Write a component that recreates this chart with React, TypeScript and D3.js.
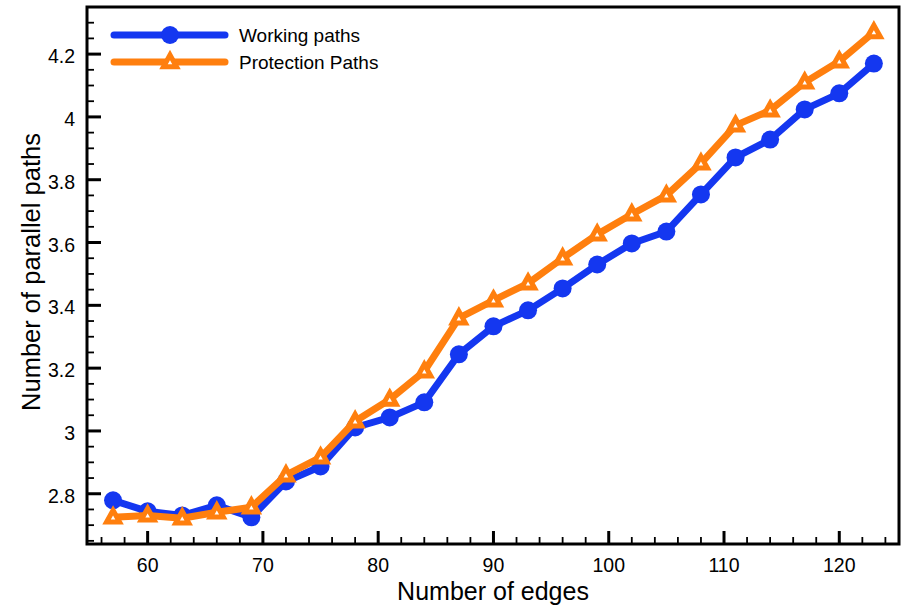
import { useEffect, useRef } from "react";
import * as d3 from "d3";

const edges = [57, 60, 63, 66, 69, 72, 75, 78, 81, 84, 87, 90, 93, 96, 99, 102, 105, 108, 111, 114, 117, 120, 123];
const workingPaths = [2.779, 2.744, 2.731, 2.763, 2.725, 2.839, 2.887, 3.011, 3.043, 3.091, 3.244, 3.333, 3.384, 3.454, 3.53, 3.597, 3.635, 3.753, 3.871, 3.928, 4.024, 4.075, 4.17];
const protectionPaths = [2.725, 2.731, 2.722, 2.741, 2.757, 2.859, 2.916, 3.031, 3.1, 3.19, 3.359, 3.416, 3.47, 3.55, 3.626, 3.69, 3.75, 3.852, 3.973, 4.021, 4.11, 4.177, 4.27];
const xTicks = [60, 70, 80, 90, 100, 110, 120];
const yTicks = [2.8, 3, 3.2, 3.4, 3.6, 3.8, 4, 4.2];
const seriesNames = ["Working paths", "Protection Paths"];

const W = 910, H = 608;
const left = 87, right = 899, top = 7, bottom = 544;
const blue = "#1437f0";
const orange = "#ff7f0e";
const font = "'Liberation Sans', Arial, Helvetica, sans-serif";

function triPath(cx: number, cy: number, s: number) {
    const h = s * 0.9;
    return `M${cx},${cy - h * 0.6}L${cx + s / 2},${cy + h * 0.4}L${cx - s / 2},${cy + h * 0.4}Z`;
}

export default function App() {
    const svgRef = useRef<SVGSVGElement>(null);

    useEffect(() => {
        const svg = d3.select(svgRef.current);
        svg.selectAll("*").remove();

        const x = d3.scaleLinear().domain([54.74, 125.18]).range([left, right]);
        const y = d3.scaleLinear().domain([2.64, 4.35]).range([bottom, top]);

        // minor + major ticks, inward
        const g = svg.append("g");
        d3.range(56, 125, 2).forEach(v => {
            const major = v % 10 === 0;
            g.append("line")
                .attr("x1", x(v)).attr("x2", x(v))
                .attr("y1", bottom).attr("y2", bottom - (major ? 13 : 7))
                .attr("stroke", "black").attr("stroke-width", major ? 3 : 1.8);
        });
        d3.range(2.65, 4.35, 0.05).forEach(v => {
            const major = yTicks.some(t => Math.abs(t - v) < 1e-6);
            g.append("line")
                .attr("x1", left).attr("x2", left + (major ? 14 : 7))
                .attr("y1", y(v)).attr("y2", y(v))
                .attr("stroke", "black").attr("stroke-width", major ? 3 : 1.8);
        });

        xTicks.forEach(v => {
            g.append("text")
                .attr("x", x(v)).attr("y", 572)
                .attr("text-anchor", "middle")
                .attr("font-family", font).attr("font-size", 19.5)
                .text(v);
        });
        yTicks.forEach(v => {
            g.append("text")
                .attr("x", 75).attr("y", y(v) + 9)
                .attr("text-anchor", "end")
                .attr("font-family", font).attr("font-size", 19.5)
                .text(d3.format("~g")(v));
        });

        // frame
        svg.append("rect")
            .attr("x", left).attr("y", top)
            .attr("width", right - left).attr("height", bottom - top)
            .attr("fill", "none").attr("stroke", "black").attr("stroke-width", 3);

        // axis titles
        svg.append("text")
            .attr("x", (left + right) / 2).attr("y", 600)
            .attr("text-anchor", "middle")
            .attr("font-family", font).attr("font-size", 25)
            .text("Number of edges");
        svg.append("text")
            .attr("transform", `translate(40,272) rotate(-90)`)
            .attr("text-anchor", "middle")
            .attr("font-family", font).attr("font-size", 25.5)
            .text("Number of parallel paths");

        const line = d3.line<number>()
            .x((d, i) => x(edges[i]))
            .y(d => y(d));

        // working paths
        svg.append("path")
            .attr("d", line(workingPaths))
            .attr("fill", "none").attr("stroke", blue)
            .attr("stroke-width", 7).attr("stroke-linejoin", "round");
        svg.selectAll("circle.wp")
            .data(workingPaths)
            .join("circle")
            .attr("class", "wp")
            .attr("cx", (d, i) => x(edges[i]))
            .attr("cy", d => y(d))
            .attr("r", 9)
            .attr("fill", blue);

        // protection paths
        svg.append("path")
            .attr("d", line(protectionPaths))
            .attr("fill", "none").attr("stroke", orange)
            .attr("stroke-width", 7).attr("stroke-linejoin", "round");
        svg.selectAll("path.pp")
            .data(protectionPaths)
            .join("path")
            .attr("class", "pp")
            .attr("d", (d, i) => triPath(x(edges[i]), y(d), 13))
            .attr("fill", "white").attr("stroke", orange)
            .attr("stroke-width", 5).attr("stroke-linejoin", "miter");

        // legend
        const lg = svg.append("g");
        const rows = [
            { name: seriesNames[0], color: blue, yy: 35 },
            { name: seriesNames[1], color: orange, yy: 62 },
        ];
        rows.forEach((r, i) => {
            lg.append("line")
                .attr("x1", 114).attr("x2", 225)
                .attr("y1", r.yy).attr("y2", r.yy)
                .attr("stroke", r.color).attr("stroke-width", 7)
                .attr("stroke-linecap", "round");
            if (i === 0) {
                lg.append("circle").attr("cx", 170).attr("cy", r.yy).attr("r", 9).attr("fill", blue);
            } else {
                lg.append("path").attr("d", triPath(170, r.yy, 13))
                    .attr("fill", "white").attr("stroke", orange).attr("stroke-width", 5);
            }
            lg.append("text")
                .attr("x", 239).attr("y", r.yy + 7.3)
                .attr("font-family", font).attr("font-size", 19)
                .text(r.name);
        });
    }, []);

    return (
        <svg ref={svgRef} width={W} height={H}
            style={{ position: "absolute", left: 0, top: 0, background: "white" }} />
    );
}
